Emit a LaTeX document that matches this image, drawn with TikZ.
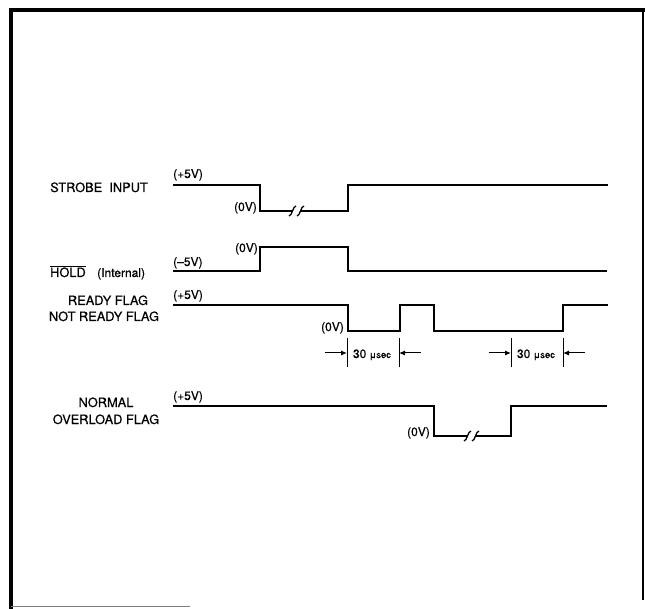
\documentclass[tikz,border=0pt]{standalone}
\usepackage{fontspec}
\setmainfont{TeX Gyre Heros}[FakeBold=0.5]
\usetikzlibrary{arrows.meta}

\tikzset{
  sig/.style={line width=1.3pt},
  lbl/.style={inner sep=0pt,font=\fontsize{12.8}{15}\selectfont},
  volt/.style={inner sep=0pt,font=\fontsize{12}{14}\selectfont},
  dimarr/.style={line width=1pt,-{Latex[length=6pt,width=5pt]}},
  dimtick/.style={line width=1pt}
}
\newcommand{\sigbreak}[2]{%
  \draw[sig] (#1-9,#2+5) .. controls (#1-6,#2+5) and (#1-5,#2-5) .. (#1-2,#2-5);
  \draw[sig] (#1-1,#2+5) .. controls (#1+2,#2+5) and (#1+3,#2-5) .. (#1+6,#2-5);}

\begin{document}
\begin{tikzpicture}[x=1pt,y=-1pt]
\useasboundingbox (0,0) rectangle (645,609);
\draw[line width=3.5pt] (11,609) -- (11,10) -- (645,10);
\draw[line width=2pt] (642.5,10) -- (642.5,600);
\draw[gray,line width=1pt] (11,606) -- (190,606);

\draw[sig] (173,185) -- (260,185) -- (260,211) -- (292,211);
\draw[sig] (301,211) -- (348,211) -- (348,185) -- (608,185);
\sigbreak{298}{211}
\draw[sig] (173,271) -- (260,271) -- (260,247) -- (348,247) -- (348,271) -- (607,271);
\draw[sig] (173,305) -- (348,305) -- (348,331) -- (400,331) -- (400,305) -- (434,305)
  -- (434,331) -- (563,331) -- (563,305) -- (608,305);
\draw[sig] (173,406) -- (434,406) -- (434,436) -- (467,436);
\draw[sig] (476,436) -- (511,436) -- (511,406) -- (607,406);
\sigbreak{473}{436}

\node[lbl,anchor=base west] (strobe) at (50,192) {STROBE~~INPUT};
\node[lbl,anchor=base west] (hold) at (50,277) {$\overline{\mbox{HOLD}}$};
\node[volt,anchor=base west] (internal) at (97,277) {(Internal)};
\node[lbl,anchor=base] (ready) at (108,305) {READY FLAG};
\node[lbl,anchor=base] (notready) at (104,321) {NOT READY FLAG};
\node[lbl,anchor=base] (normal) at (106,407) {NORMAL};
\node[lbl,anchor=base] (overload) at (106,424) {OVERLOAD FLAG};

\node[volt,anchor=base west] (strobehi) at (173,178) {(+5V)};
\node[volt,anchor=base east] (strobelo) at (257,211) {(0V)};
\node[volt,anchor=base west] (holdlo) at (173,266) {(–5V)};
\node[volt,anchor=base east] (holdhi) at (258,252) {(0V)};
\node[volt,anchor=base west] (readyhi) at (173,299) {(+5V)};
\node[volt,anchor=base east] (readylo) at (344,331) {(0V)};
\node[volt,anchor=base west] (normalhi) at (173,400) {(+5V)};
\node[volt,anchor=base east] (normallo) at (430,436) {(0V)};

\foreach \xa/\xb in {347/399,511/563} {
  \coordinate (l\xa) at (\xa-22,353);
  \coordinate (r\xa) at (\xb+22,353);
  \coordinate (a\xa) at (\xa,353);
  \coordinate (b\xa) at (\xb,353);
  \draw[dimtick] (\xa,338) -- (\xa,367);
  \draw[dimtick] (\xb,338) -- (\xb,367);
  \draw[dimarr] (l\xa) -- (a\xa);
  \draw[dimarr] (r\xa) -- (b\xa);
  \node[inner sep=0pt,anchor=base] (t\xa) at ({(\xa+\xb)/2-1},358)
    {\fontsize{12}{14}\selectfont 30 \fontsize{9.5}{11}\selectfont μsec};
}
\end{tikzpicture}
\end{document}
